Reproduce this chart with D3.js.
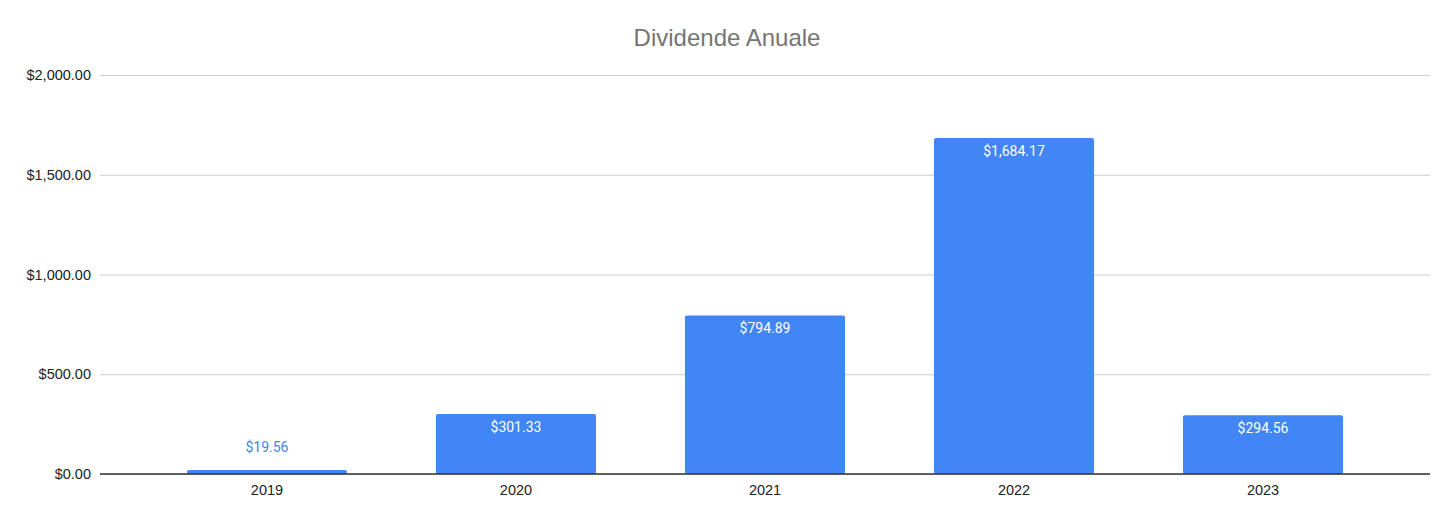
<!DOCTYPE html>
<html><head><meta charset="utf-8">
<script src="https://cdn.jsdelivr.net/npm/d3@7"></script>
<style>body{margin:0;background:#fff}svg{display:block}</style>
</head><body>
<script>
const categories = ["2019","2020","2021","2022","2023"];
const values = [19.56, 301.33, 794.89, 1684.17, 294.56];
const yTicks = [0, 500, 1000, 1500, 2000];
const title = "Dividende Anuale";

const W = 1456, H = 522;
const svg = d3.select("body").append("svg").attr("width", W).attr("height", H);
const mLeft = 100, mRight = 1430, mTop = 75, mBottom = 474;
const fmt = d3.format("$,.2f");

const x = d3.scaleBand().domain(categories).range([mLeft, mRight]).paddingInner(0.357).paddingOuter(0.349);
const y = d3.scaleLinear().domain([0, 2000]).range([mBottom, mTop]);

svg.append("text").attr("x", 727).attr("y", 46).attr("text-anchor", "middle")
  .attr("font-family", "Liberation Sans, Arial, sans-serif").attr("font-size", 24).attr("fill", "#757575").text(title);

// grid
const yAxis = d3.axisLeft(y).tickValues(yTicks).tickSize(-(mRight - mLeft)).tickFormat(fmt).tickPadding(9);
const gy = svg.append("g").attr("transform", `translate(${mLeft},0)`).call(yAxis);
gy.select(".domain").remove();
gy.selectAll(".tick line").attr("stroke", "#cccccc").attr("stroke-width", 1);
gy.selectAll(".tick text").attr("font-family", "Liberation Sans, Arial, sans-serif").attr("font-size", 14.5).attr("fill", "#222");

// bars
svg.append("g").selectAll("rect").data(values).join("rect")
  .attr("x", (d, i) => x(categories[i]))
  .attr("width", x.bandwidth())
  .attr("y", d => y(d))
  .attr("height", d => mBottom - y(d))
  .attr("rx", 2).attr("fill", "#4285F4");

// baseline
svg.append("line").attr("x1", mLeft).attr("x2", mRight).attr("y1", y(0)).attr("y2", y(0)).attr("stroke", "#333").attr("stroke-width", 1.3);

// x axis
const xAxis = d3.axisBottom(x).tickSize(0).tickPadding(11);
const gx = svg.append("g").attr("transform", `translate(0,${mBottom})`).call(xAxis);
gx.select(".domain").remove();
gx.selectAll(".tick text").attr("font-family", "Liberation Sans, Arial, sans-serif").attr("font-size", 14.5).attr("fill", "#222");

// data labels
svg.append("g").selectAll("text").data(values).join("text")
  .attr("x", (d, i) => x(categories[i]) + x.bandwidth() / 2)
  .attr("y", d => (mBottom - y(d) > 30) ? y(d) + 18 : y(d) - 18)
  .attr("text-anchor", "middle")
  .attr("font-family", "Roboto, sans-serif").attr("font-size", 14)
  .attr("fill", d => (mBottom - y(d) > 30) ? "#ffffff" : "#4285F4")
  .text(d => fmt(d));
</script>
</body></html>
